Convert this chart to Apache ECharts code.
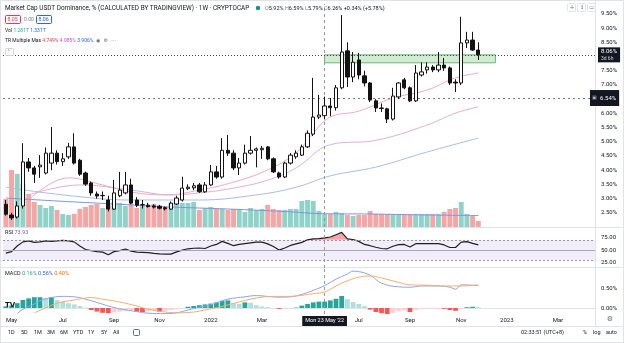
<!DOCTYPE html>
<html><head><meta charset="utf-8">
<script src="https://cdn.jsdelivr.net/npm/echarts@6/dist/echarts.min.js"></script>
<style>html,body{margin:0;padding:0;background:#fff}#c{width:624px;height:343px}</style>
</head><body><div id="c"></div>
<script>
// ---------- DATA ----------
const START = [2021, 3, 26];            // first weekly bar (Mon 26 Apr 2021)
const TOTAL_WEEKS = 104;                // bars + empty future space
const opens = [2.8,2.42,2.35,2.74,4.29,4.08,4.12,3.9,4.25,4.6,
 4.3,4.47,4.82,4.35,3.9,3.55,3.16,3.1,2.95,2.63,
 3.1,3.2,3.48,2.95,2.78,2.77,2.74,2.72,2.68,2.63,
 2.81,2.95,3.35,3.38,3.48,3.24,3.48,3.94,3.76,4.7,
 4.6,4.08,4.25,4.6,4.7,4.72,4.82,4.4,3.9,3.76,
 4.25,4.47,4.53,4.82,5.27,5.87,5.92,6.26,6.2,6.9,
 8.2,7.28,7.88,7.32,7.07,6.44,6.19,6.16,5.8,6.58,
 7.18,6.9,6.44,7.35,7.53,7.63,7.53,7.7,7.6,7.1,
 7.07,8.48,8.58,8.23];
const closes = [2.45,2.32,2.74,4.29,4.08,3.86,4.18,4.6,4.6,4.3,
 4.4,4.82,4.25,3.86,3.51,3.2,3.09,3.11,2.63,3.2,
 3.3,3.48,2.84,2.77,2.79,2.72,2.7,2.66,2.64,2.84,
 3.02,3.37,3.4,3.45,3.24,3.48,3.94,3.76,4.7,4.6,
 4.08,4.25,4.6,4.7,4.75,4.77,4.4,3.94,3.76,4.25,
 4.53,4.6,4.82,5.3,5.87,5.94,6.26,6.2,6.9,8.16,
 7.28,7.8,7.35,7.07,6.47,6.19,6.17,5.8,6.61,7.07,
 6.9,6.44,7.42,7.46,7.63,7.53,7.7,7.6,7.07,7.07,
 8.48,8.58,8.23,8.06];
const lows = [2.4,2.25,2.3,2.65,3.94,3.55,3.73,3.85,4.0,4.2,
 4.15,4.4,4.2,3.8,3.45,3.1,3.0,2.95,2.55,2.6,
 3.05,3.15,2.8,2.7,2.65,2.68,2.65,2.62,2.58,2.6,
 2.78,2.9,3.3,3.3,3.2,3.2,3.45,3.7,3.7,4.5,
 4.0,3.83,4.2,4.55,4.1,4.4,4.35,3.9,3.7,3.72,
 4.2,4.4,4.5,4.78,5.2,5.8,5.79,5.9,6.1,6.85,
 6.93,7.1,7.2,6.95,6.4,6.05,6.05,5.66,5.75,6.5,
 6.85,6.4,6.4,7.3,7.4,7.45,7.45,7.5,7.0,6.75,
 7.0,8.3,8.2,7.88];
const highs = [2.95,2.5,2.9,4.95,4.43,4.15,4.53,4.8,5.52,4.7,
 4.6,4.96,5.3,4.4,3.95,3.6,3.25,3.25,3.1,3.66,
 3.94,3.94,3.7,3.05,2.95,2.85,2.8,2.78,2.72,2.9,
 3.1,3.77,3.5,3.55,3.55,3.58,4.18,4.15,5.13,5.24,
 4.7,4.43,4.9,5.2,4.8,4.85,4.85,4.45,3.95,4.3,
 4.6,4.7,4.9,5.4,7.25,6.65,6.59,6.54,7.0,9.46,
 8.5,8.16,8.13,7.5,7.1,6.5,6.35,6.2,6.9,7.1,
 7.25,6.95,7.7,7.8,7.8,7.7,8.16,7.95,7.65,7.2,
 9.4,8.87,8.87,8.5];
const volumes = [2.8,5.7,5.3,4.3,3.3,2.5,2.2,1.9,2.1,1.7,
 1.3,1.2,1.3,1.8,2.0,2.2,2.3,1.9,2.2,2.5,
 2.4,2.1,2.3,1.9,2.2,2.2,2.3,2.2,2.0,2.4,
 2.5,2.4,2.4,2.5,1.7,1.9,2.0,1.8,1.8,1.7,
 1.8,1.8,1.5,1.9,1.7,1.8,2.2,1.8,1.7,1.7,
 1.8,1.8,2.6,2.7,2.6,1.6,1.28,1.3,1.5,1.4,
 1.2,1.1,1.2,1.2,1.6,1.3,1.3,1.3,1.3,1.3,
 1.2,1.3,1.3,1.3,1.3,1.3,1.3,1.5,1.8,1.9,
 2.5,1.3,1.1,0.6];
const volumeMA = [[0,2.9],[9,2.6],[19,2.3],[29,2.0],[39,1.8],[49,1.55],[56,1.33],[64,1.3],[74,1.2],[83,1.15]];
const maFast = [[4,2.95],[11,3.73],[17,3.48],[22,3.23],[28,3.13],[34,3.3],[40,3.58],[46,4.01],[51,4.61],[54,5.3],[57,5.87],[62,6.08],[68,6.54],[74,6.82],[79,7.25],[83,7.42]];
const maMid = [[4,3.13],[13,3.48],[22,3.3],[29,3.13],[34,3.2],[40,3.37],[46,3.65],[51,4.08],[57,4.9],[65,5.05],[74,5.59],[79,6.01],[83,6.23]];
const maSlow = [[0,3.4],[10,3.13],[22,2.95],[34,2.95],[44,3.13],[51,3.4],[57,3.8],[65,4.11],[74,4.64],[83,5.13]];
const rsi = [44,47,58,66,68,65,66,68,67,68,
 69,68,66,58,51,49,47,46,41,47,
 49,52,48,46,45.5,45,43.5,42.5,42,42,
 46.5,50,52.5,53.5,54,53,58,61,67,63,
 58.5,61,62.5,64,65.5,65.5,62,57,50,54,
 59,62,65,70,72,72.5,73.93,75.5,80,84.4,
 72,70.6,67,61,58.5,55.5,53,52.5,57.5,60.5,
 61,56,62.5,62.5,62.5,62.5,62.5,60,55,55,
 65.6,66.5,63,60];
const macdLine = [[2,-0.14],[3,-0.03],[5,0.1],[6,0.18],[8,0.26],[10,0.29],[12,0.28],[14,0.22],[16,0.14],[18,0.05],[20,-0.02],[23,-0.09],[25,-0.13],[28,-0.14],[30,-0.12],[32,-0.05],[34,0.02],[36,0.08],[37,0.13],[39,0.22],[42,0.28],[44,0.31],[46,0.29],[48,0.27],[50,0.28],[52,0.34],[54,0.44],[56,0.56],[58,0.72],[60,0.85],[61,0.92],[62,0.91],[64,0.82],[66,0.62],[69,0.53],[71,0.52],[73,0.55],[76,0.55],[78,0.52],[79,0.47],[80,0.58],[83,0.56]];
const signalLine = [[5,-0.12],[7,0.0],[9,0.12],[12,0.2],[14,0.25],[15,0.26],[17,0.22],[20,0.15],[23,0.05],[25,-0.03],[28,-0.1],[30,-0.12],[33,-0.1],[35,-0.05],[38,0.04],[41,0.15],[44,0.25],[47,0.29],[49,0.29],[51,0.3],[54,0.36],[56,0.40],[58,0.55],[60,0.68],[62,0.77],[64,0.8],[66,0.75],[69,0.64],[71,0.58],[74,0.57],[77,0.55],[80,0.55],[83,0.58]];
const macdHist = [0.04,0.06,0.12,0.2,0.24,0.27,0.27,0.25,0.27,0.2,
 0.16,0.12,0.09,0.05,0.01,-0.05,-0.09,-0.12,-0.13,-0.11,
 -0.09,-0.07,-0.06,-0.09,-0.1,-0.07,-0.06,-0.09,-0.07,-0.05,
 -0.03,-0.01,0.03,0.05,0.07,0.09,0.11,0.14,0.18,0.19,
 0.12,0.1,0.14,0.13,0.07,0.04,0.02,0.0,-0.02,-0.02,
 0.0,0.01,0.06,0.1,0.14,0.16,0.16,0.19,0.23,0.3,
 0.22,0.15,0.1,0.05,-0.04,-0.1,-0.13,-0.16,-0.12,-0.08,
 -0.06,-0.1,-0.05,-0.03,-0.02,-0.02,-0.01,-0.02,-0.05,-0.07,
 -0.02,0.02,0.03,0.02];
const tickDates = ['2021-05-03','2021-07-05','2021-09-06','2021-11-01','2022-01-03','2022-03-07','2022-07-04','2022-09-05','2022-11-07','2023-01-02','2023-03-06'];
const tickTexts = ['May','Jul','Sep','Nov','2022','Mar','Jul','Sep','Nov','2023','Mar'];
const crosshairDate = '2022-05-23';
const crosshairText = "Mon 23 May '22";
const alertLevel = 6.54;
const zoneStart = '2022-05-23', zoneEnd = '2022-12-19', zoneTop = 8.06, zoneBottom = 7.78;
const countdown = '3d 6h';

// ---------- BUILD ----------
const cats = [];
for (let i = 0; i < TOTAL_WEEKS; i++) {
  const d = new Date(Date.UTC(START[0], START[1], START[2]) + i * 7 * 864e5);
  cats.push(d.toISOString().slice(0, 10));
}
const candles = opens.map((o, i) => [o, closes[i], lows[i], highs[i]]);
const lastClose = closes[closes.length - 1];
const FONT = 'Roboto, "Liberation Sans", Arial, sans-serif';
const TXT = '#131722';
const GRID_L = 3, GRID_R = 29;
const UP_VOL = '#8fd2c8', DN_VOL = '#f6a5a5';

const chart = echarts.init(document.getElementById('c'), null, {renderer: 'canvas', width: 624, height: 343});

function xAx(idx, shown) {
  const a = {type: 'category', gridIndex: idx, data: cats, boundaryGap: true,
    axisLine: {show: shown, lineStyle: {color: '#e0e3eb'}}, axisTick: {show: false},
    splitLine: {show: false}, axisLabel: {show: false}, axisPointer: {show: false}};
  if (shown) {
    a.axisLabel = {show: true, fontSize: 6, color: TXT, fontFamily: FONT, margin: 3,
      interval: (i, v) => tickDates.indexOf(v) >= 0,
      formatter: v => { const k = tickDates.indexOf(v); return k >= 0 ? tickTexts[k] : ''; }};
  }
  return a;
}
function yLbl(fmt) {
  return {fontSize: 6, color: TXT, fontFamily: FONT, margin: 6, formatter: fmt};
}
const near = (a, b) => Math.abs(a - b) < 1e-6;

const option = {
  animation: false,
  backgroundColor: '#ffffff',
  grid: [
    {left: GRID_L, right: GRID_R, top: 4, height: 223, outerBoundsMode: 'none'},
    {left: GRID_L, right: GRID_R, top: 157, height: 70, outerBoundsMode: 'none'},
    {left: GRID_L, right: GRID_R, top: 227, height: 41, outerBoundsMode: 'none'},
    {left: GRID_L, right: GRID_R, top: 268, height: 46, outerBoundsMode: 'none'}
  ],
  xAxis: [xAx(0, false), xAx(1, false), xAx(2, false), xAx(3, true)],
  yAxis: [
    {type: 'value', gridIndex: 0, position: 'right', min: 2, max: 9.85, interval: 0.5,
      axisLine: {show: true, lineStyle: {color: '#e0e3eb'}}, axisTick: {show: false}, splitLine: {show: false},
      axisLabel: yLbl(v => (v > 2.2 && v < 9.6 && near(v * 2, Math.round(v * 2))) ? v.toFixed(2) + '%' : '')},
    {type: 'value', gridIndex: 1, min: 0, max: 7, show: false},
    {type: 'value', gridIndex: 2, position: 'right', min: 15, max: 95, interval: 5,
      axisLine: {show: true, lineStyle: {color: '#e0e3eb'}}, axisTick: {show: false}, splitLine: {show: false},
      axisLabel: yLbl(v => (near(v, 25) || near(v, 50) || near(v, 75)) ? v.toFixed(2) : '')},
    {type: 'value', gridIndex: 3, position: 'right', min: -0.15, max: 1.0, interval: 0.05,
      axisLine: {show: true, lineStyle: {color: '#e0e3eb'}}, axisTick: {show: false}, splitLine: {show: false},
      axisLabel: yLbl(v => near(v, 0) ? '0.00%' : (near(v, 0.5) ? '0.50%' : ''))}
  ],
  series: [
    {name: 'Volume', type: 'bar', xAxisIndex: 1, yAxisIndex: 1, data: volumes, barCategoryGap: '14%', z: 1,
      itemStyle: {color: p => closes[p.dataIndex] >= opens[p.dataIndex] ? UP_VOL : DN_VOL}},
    {name: 'Vol MA', type: 'line', xAxisIndex: 1, yAxisIndex: 1, data: volumeMA, smooth: 0.4, symbol: 'none', z: 2,
      lineStyle: {color: '#7d97e0', width: 1}},
    {name: 'MA fast', type: 'line', xAxisIndex: 0, yAxisIndex: 0, data: maFast, smooth: 0.4, symbol: 'none', z: 3,
      lineStyle: {color: '#f5a9ba', width: 1}},
    {name: 'MA mid', type: 'line', xAxisIndex: 0, yAxisIndex: 0, data: maMid, smooth: 0.4, symbol: 'none', z: 3,
      lineStyle: {color: '#ddb0dc', width: 1}},
    {name: 'MA slow', type: 'line', xAxisIndex: 0, yAxisIndex: 0, data: maSlow, smooth: 0.4, symbol: 'none', z: 3,
      lineStyle: {color: '#a9bde9', width: 1}},
    {name: 'Price', type: 'candlestick', xAxisIndex: 0, yAxisIndex: 0, data: candles, barWidth: '66%', z: 5,
      itemStyle: {color: '#ffffff', color0: '#131313', borderColor: '#131313', borderColor0: '#131313', borderWidth: 1},
      markArea: {silent: true, itemStyle: {color: 'rgba(129,199,132,0.35)', borderColor: '#66bb6a', borderWidth: 1},
        data: [[{xAxis: zoneStart, yAxis: zoneTop}, {xAxis: zoneEnd, yAxis: zoneBottom}]]},
      markLine: {silent: true, symbol: ['none', 'none'], animation: false,
        data: [
          {yAxis: lastClose, lineStyle: {type: [1, 2], color: '#434651', width: 1},
            label: {show: true, position: 'end', distance: 3, backgroundColor: '#131722', padding: [1, 3, 1, 3],
              formatter: '{a|' + lastClose.toFixed(2) + '%}\n{b|' + countdown + '}',
              rich: {a: {color: '#fff', fontSize: 6, fontFamily: FONT, lineHeight: 7},
                     b: {color: '#d1d4dc', fontSize: 5, fontFamily: FONT, lineHeight: 6}}}},
          {yAxis: alertLevel, lineStyle: {type: [2, 3], color: '#787b86', width: 1},
            label: {show: true, position: 'end', distance: -5, backgroundColor: '#131722', padding: [2, 3, 2, 2],
              formatter: '{i|▣} {a|' + alertLevel.toFixed(2) + '%}',
              rich: {i: {color: '#b2b5be', fontSize: 5, fontFamily: 'DejaVu Sans'}, a: {color: '#fff', fontSize: 6, fontFamily: FONT}}}},
          {xAxis: crosshairDate, lineStyle: {type: [3, 3], color: '#9598a1', width: 1}, label: {show: false}}
        ]}},
    {name: 'RSI base', type: 'line', xAxisIndex: 2, yAxisIndex: 2, data: rsi.map(() => 70), stack: 'ob',
      symbol: 'none', lineStyle: {opacity: 0}, z: 2},
    {name: 'RSI over', type: 'line', xAxisIndex: 2, yAxisIndex: 2, data: rsi.map(v => Math.max(v - 70, 0)), stack: 'ob',
      symbol: 'none', lineStyle: {opacity: 0}, areaStyle: {color: 'rgba(242,54,69,0.45)', opacity: 1}, z: 2},
    {name: 'RSI', type: 'line', xAxisIndex: 2, yAxisIndex: 2, data: rsi, symbol: 'none', z: 4,
      lineStyle: {color: '#1f1f1f', width: 1.2},
      markArea: {silent: true, itemStyle: {color: 'rgba(126,87,194,0.10)'}, data: [[{yAxis: 70}, {yAxis: 30}]]},
      markLine: {silent: true, symbol: ['none', 'none'], animation: false, label: {show: false},
        data: [
          {yAxis: 70, lineStyle: {type: [2, 2], color: '#9598a1', width: 1}},
          {yAxis: 30, lineStyle: {type: [2, 2], color: '#9598a1', width: 1}},
          {yAxis: 50, lineStyle: {type: 'solid', color: '#a8a2c4', width: 1}},
          {xAxis: crosshairDate, lineStyle: {type: [3, 3], color: '#9598a1', width: 1}}
        ]}},
    {name: 'MACD hist', type: 'bar', xAxisIndex: 3, yAxisIndex: 3, data: macdHist, barCategoryGap: '16%', z: 2,
      itemStyle: {color: p => {
        const i = p.dataIndex, v = macdHist[i], pv = i > 0 ? macdHist[i - 1] : 0;
        if (v >= 0) return v >= pv ? '#26a69a' : '#b2dfdb';
        return v < pv ? '#ff5252' : '#ffcdd2';
      }}},
    {name: 'MACD', type: 'line', xAxisIndex: 3, yAxisIndex: 3, data: macdLine, smooth: 0.4, symbol: 'none', z: 4,
      lineStyle: {color: '#8aa4f0', width: 1},
      markLine: {silent: true, symbol: ['none', 'none'], animation: false,
        data: [{xAxis: crosshairDate, lineStyle: {type: [3, 3], color: '#9598a1', width: 1},
          label: {show: true, position: 'start', distance: 2, formatter: crosshairText, color: '#fff',
            backgroundColor: '#131722', padding: [2, 3], fontSize: 5.5, fontFamily: FONT}}]}},
    {name: 'Signal', type: 'line', xAxisIndex: 3, yAxisIndex: 3, data: signalLine, smooth: 0.4, symbol: 'none', z: 4,
      lineStyle: {color: '#f6ad6c', width: 1}}
  ],
  graphic: []
};

// ---------- DECORATION (text & chrome) ----------
const G = [];
function line(x1, y1, x2, y2, c) { G.push({type: 'line', silent: true, z: 0, shape: {x1, y1, x2, y2}, style: {stroke: c || '#e0e3eb', lineWidth: 1}}); }
function text(x, y, t, fill, size, extra) {
  G.push(Object.assign({type: 'text', x, y, silent: true, z: 100,
    style: Object.assign({text: t, fill: fill || TXT, fontSize: size || 6, fontFamily: FONT, verticalAlign: 'middle', align: 'left'}, extra || {})}));
}
function box(x, y, w, h, stroke, fill) {
  G.push({type: 'rect', silent: true, z: 99, shape: {x, y, width: w, height: h, r: 1}, style: {stroke, fill: fill || '#fff', lineWidth: 1}});
}
line(0, 227.5, 624, 227.5); line(0, 267.5, 624, 267.5); line(0, 326.5, 624, 326.5);
line(595.5, 0, 595.5, 326);
G.push({type: 'rect', silent: true, z: 0, shape: {x: 0.5, y: 0.5, width: 623, height: 342}, style: {stroke: '#e0e3eb', fill: 'none'}});

text(5, 8.5, 'Market Cap USDT Dominance, % (CALCULATED BY TRADINGVIEW) · 1W · CRYPTOCAP', TXT, 6.4);
G.push({type: 'circle', silent: true, z: 100, shape: {cx: 258, cy: 8, r: 2.2}, style: {fill: '#089981'}});
text(265, 8.5, '{k|O}{v|5.92%} {k|H}{v|6.59%} {k|L}{v|5.79%} {k|C}{v|6.26%} {v|+0.34% (+5.78%)}', TXT, 5.5,
  {rich: {k: {fill: '#787b86', fontSize: 5.5, fontFamily: FONT}, v: {fill: TXT, fontSize: 5.5, fontFamily: FONT}}});
box(5.5, 15.5, 15, 8, '#f23645'); text(7.5, 19.7, '8.05', '#f23645', 5.3);
text(24, 19.7, '0.00', '#787b86', 5);
box(36.5, 15.5, 15, 8, '#2962ff'); text(38.5, 19.7, '8.06', '#2962ff', 5.3);
text(5, 31, '{a|Vol} {b|1.281T} {c|1.331T}', TXT, 5,
  {rich: {a: {fill: TXT, fontSize: 5, fontFamily: FONT}, b: {fill: '#22ab94', fontSize: 5, fontFamily: FONT}, c: {fill: '#2962ff', fontSize: 5, fontFamily: FONT}}});
text(5, 41, '{a|TR Multiple Mas} {r|4.749%} {m|4.085%} {b|3.906%}  {i|◉  ⚙  ⋯}', TXT, 5,
  {rich: {a: {fill: TXT, fontSize: 5, fontFamily: FONT}, r: {fill: '#f23645', fontSize: 5, fontFamily: FONT},
    m: {fill: '#d050d8', fontSize: 5, fontFamily: FONT}, b: {fill: '#2962ff', fontSize: 5, fontFamily: FONT},
    i: {fill: '#6a6d78', fontSize: 5, fontFamily: 'DejaVu Sans'}}});
box(5.5, 48.5, 8, 7, '#d1d4dc'); text(7.3, 52.5, '˄', '#6a6d78', 6, {fontFamily: 'DejaVu Sans'});
// top-right pane buttons
box(567.5, 3.5, 8, 8, '#e0e3eb'); text(569.5, 7.5, '+', '#6a6d78', 6, {fontFamily: 'DejaVu Sans'});
box(577.5, 3.5, 8, 8, '#e0e3eb'); text(580, 7.5, '↕', '#6a6d78', 5, {fontFamily: 'DejaVu Sans'});
box(587.5, 3.5, 8, 8, '#e0e3eb'); text(589.2, 7.5, '▭', '#6a6d78', 5, {fontFamily: 'DejaVu Sans'});
// pane legends
text(5, 233, '{a|RSI} {b|73.93}', TXT, 5.5,
  {rich: {a: {fill: TXT, fontSize: 5.5, fontFamily: FONT}, b: {fill: '#7e57c2', fontSize: 5.5, fontFamily: FONT}}});
text(5, 274, '{a|MACD} {h|0.16%} {m|0.56%} {s|0.40%}', TXT, 5.5,
  {rich: {a: {fill: TXT, fontSize: 5.5, fontFamily: FONT}, h: {fill: '#26a69a', fontSize: 5.5, fontFamily: FONT},
    m: {fill: '#2962ff', fontSize: 5.5, fontFamily: FONT}, s: {fill: '#ff6d00', fontSize: 5.5, fontFamily: FONT}}});
text(5, 305, 'TV', TXT, 7, {fontWeight: 'bold', fontFamily: 'DejaVu Sans'});
text(610, 319.5, '⚙', '#6a6d78', 7, {fontFamily: 'DejaVu Sans', align: 'center'});
// bottom toolbar
const tb = [['1D', 8], ['5D', 21], ['1M', 34], ['3M', 47], ['6M', 60], ['YTD', 73], ['1Y', 88], ['5Y', 101], ['All', 113]];
tb.forEach(([t, x]) => text(x, 333, t, TXT, 5.5));
box(133.5, 329.5, 6, 6, '#6a6d78', 'none');
text(521, 333, '02:33:51 (UTC+8)', TXT, 5.5);
text(583, 333, '%', TXT, 5.5); text(593, 333, 'log', TXT, 5.5); text(606, 333, 'auto', TXT, 5.5);
option.graphic = G;

chart.setOption(option);
</script>
</body></html>
